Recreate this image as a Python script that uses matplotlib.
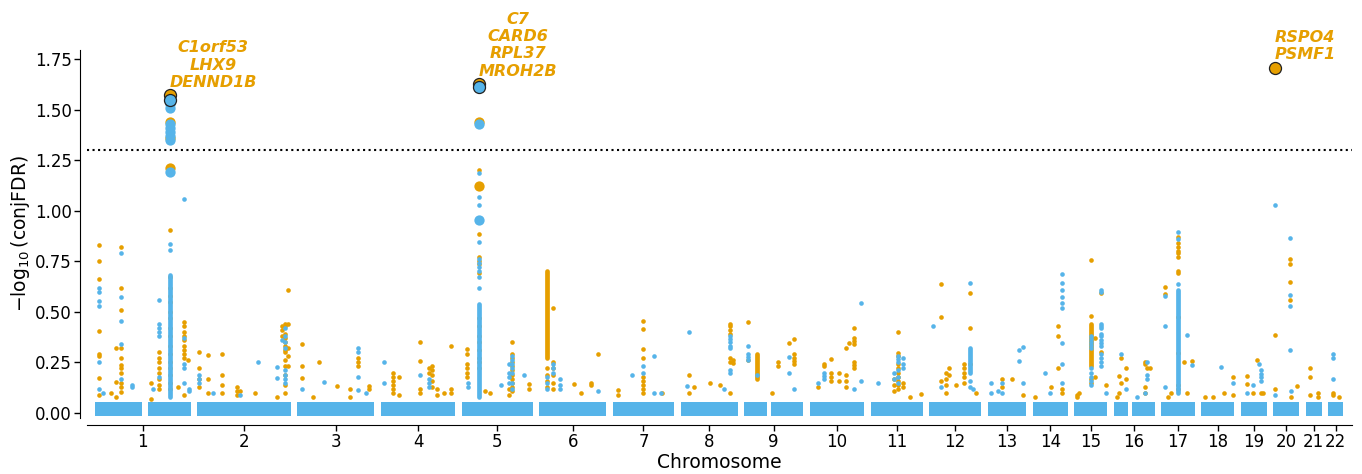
import numpy as np
import matplotlib
matplotlib.use("Agg")
import matplotlib.pyplot as plt

ORANGE = "#E69F00"
BLUE = "#56B4E9"

# chromosome block widths (relative SNP counts)
chrom_len = [96, 94, 77, 75, 71, 67, 62, 57, 59, 55, 52, 52, 39, 35, 33, 41, 34, 33, 26, 26, 16, 15]
# centromere gaps (relative position within chromosome)
centro_gap = {1: (0.49, 0.55), 9: (0.39, 0.46), 16: (0.34, 0.44)}

# small points: (chromosome, relative position, -log10 conjFDR values)
orange_cols = [
    (1, 0.045, [0.83, 0.75, 0.66, 0.405, 0.29, 0.28, 0.175, 0.09]),
    (1, 0.22, [0.32, 0.155, 0.08]), (1, 0.17, [0.10]),
    (1, 0.27, [0.82, 0.62, 0.51, 0.32, 0.27, 0.237, 0.22, 0.196, 0.15, 0.13, 0.105]),
    (1, 0.59, [0.15, 0.07]),
    (1, 0.67, [0.30, 0.27, 0.25, 0.22, 0.20, 0.17, 0.14, 0.12]),
    (1, 0.78, [0.905, 0.67, 0.62, 0.58, 0.55, 0.50, 0.47, 0.42, 0.38, 0.33, 0.29, 0.25, 0.22, 0.19, 0.15, 0.12]),
    (1, 0.93, [0.45, 0.43, 0.40, 0.38, 0.36, 0.33, 0.31, 0.29, 0.27, 0.09]),
    (1, 0.97, [0.26]), (1, 0.87, [0.13]),
    (2, 0.02, [0.30, 0.22, 0.17, 0.13]), (2, 0.12, [0.287, 0.17, 0.10]),
    (2, 0.26, [0.29, 0.19, 0.14, 0.10]), (2, 0.42, [0.13, 0.11, 0.09]),
    (2, 0.46, [0.11]), (2, 0.62, [0.10]), (2, 0.85, [0.08]),
    (2, 0.91, [0.43, 0.41, 0.38]),
    (2, 0.94, [0.44, 0.43, 0.39, 0.37, 0.35, 0.33, 0.31, 0.30, 0.26, 0.23, 0.19, 0.14, 0.10]),
    (2, 0.97, [0.61, 0.44, 0.32, 0.28, 0.23]),
    (3, 0.06, [0.34, 0.23, 0.175]), (3, 0.28, [0.25]), (3, 0.52, [0.133]),
    (3, 0.68, [0.118, 0.08]), (3, 0.79, [0.27, 0.25, 0.23]), (3, 0.93, [0.135, 0.12]),
    (3, 0.20, [0.08]),
    (4, 0.16, [0.20, 0.18, 0.16, 0.14, 0.12, 0.10]), (4, 0.25, [0.18, 0.09]),
    (4, 0.53, [0.35, 0.255, 0.12, 0.10]), (4, 0.64, [0.22, 0.20]),
    (4, 0.69, [0.23, 0.21, 0.19, 0.16, 0.13]), (4, 0.75, [0.12, 0.09]),
    (4, 0.85, [0.10]), (4, 0.94, [0.33, 0.12, 0.10]),
    (5, 0.075, [0.315, 0.29, 0.24, 0.22, 0.20, 0.18]),
    (5, 0.24, [1.20, 0.883, 0.77, 0.75, 0.735, 0.69, 0.47, 0.43, 0.38, 0.35, 0.31, 0.27, 0.25, 0.22]),
    (5, 0.33, [0.11]), (5, 0.40, [0.10]),
    (5, 0.71, [0.35, 0.29, 0.27, 0.25, 0.23, 0.21, 0.19, 0.17, 0.15, 0.13, 0.11]),
    (5, 0.66, [0.12, 0.09]), (5, 0.94, [0.145, 0.12]),
    (6, 0.11, [0.22, 0.19, 0.16, 0.13]), (6, 0.21, [0.52, 0.25, 0.22, 0.19, 0.15, 0.12]),
    (6, 0.52, [0.145]), (6, 0.63, [0.10]), (6, 0.78, [0.15, 0.14]), (6, 0.88, [0.293]),
    (7, 0.09, [0.114, 0.09]),
    (7, 0.49, [0.455, 0.415, 0.315, 0.27, 0.18, 0.16, 0.14, 0.12, 0.10]), (7, 0.80, [0.10]),
    (8, 0.15, [0.19, 0.10]), (8, 0.23, [0.127]), (8, 0.51, [0.147]), (8, 0.69, [0.138]),
    (8, 0.865, [0.44, 0.43, 0.41, 0.39, 0.27, 0.25, 0.10]), (8, 0.91, [0.26, 0.245]),
    (9, 0.07, [0.448, 0.26]), (9, 0.47, [0.10]), (9, 0.57, [0.25, 0.23]),
    (9, 0.77, [0.344]), (9, 0.85, [0.364, 0.29, 0.27, 0.255, 0.24]),
    (10, 0.16, [0.13]), (10, 0.27, [0.24, 0.23]), (10, 0.39, [0.265, 0.20, 0.18, 0.16]),
    (10, 0.54, [0.196, 0.16]), (10, 0.66, [0.32, 0.19, 0.16, 0.13]), (10, 0.72, [0.347]),
    (10, 0.81, [0.418, 0.37, 0.355, 0.34, 0.25, 0.235, 0.22]),
    (11, 0.52, [0.40, 0.295, 0.28, 0.24, 0.22, 0.20, 0.18, 0.16, 0.14, 0.12]),
    (11, 0.45, [0.17, 0.14, 0.11]), (11, 0.62, [0.15, 0.13]), (11, 0.96, [0.094]), (11, 0.75, [0.08]),
    (12, 0.23, [0.636, 0.473, 0.16]), (12, 0.33, [0.20, 0.17, 0.14, 0.10]), (12, 0.38, [0.224, 0.19]),
    (12, 0.52, [0.14]), (12, 0.68, [0.242, 0.22, 0.20, 0.18, 0.15]), (12, 0.79, [0.594, 0.42, 0.24]),
    (12, 0.90, [0.10]),
    (13, 0.38, [0.168, 0.13]), (13, 0.63, [0.168]), (13, 0.92, [0.09]),
    (14, 0.06, [0.08]), (14, 0.53, [0.127]), (14, 0.72, [0.43, 0.38, 0.22]), (14, 0.84, [0.12, 0.10]),
    (15, 0.08, [0.09, 0.08]), (15, 0.15, [0.10]), (15, 0.50, [0.756, 0.48, 0.17, 0.15]),
    (15, 0.62, [0.372, 0.18]), (15, 0.80, [0.594, 0.30]), (15, 0.95, [0.14]),
    (16, 0.07, [0.08]), (16, 0.12, [0.184, 0.10]), (16, 0.19, [0.27, 0.15]), (16, 0.31, [0.22, 0.17]),
    (16, 0.76, [0.25, 0.24, 0.13, 0.10]), (16, 0.81, [0.22]), (16, 0.88, [0.22]),
    (17, 0.13, [0.624, 0.59]), (17, 0.20, [0.08]), (17, 0.30, [0.10]),
    (17, 0.50, [0.87, 0.84, 0.82, 0.80, 0.79, 0.77, 0.70, 0.69, 0.476, 0.296, 0.14, 0.12]),
    (17, 0.69, [0.254]), (17, 0.77, [0.10]), (17, 0.92, [0.258]),
    (18, 0.10, [0.08]), (18, 0.35, [0.08]), (18, 0.70, [0.10]), (18, 0.95, [0.18, 0.09]),
    (19, 0.25, [0.183, 0.143]), (19, 0.48, [0.10]), (19, 0.63, [0.262]), (19, 0.76, [0.10]), (19, 0.85, [0.10]),
    (20, 0.05, [0.385, 0.117]), (20, 0.63, [0.761, 0.735, 0.646, 0.558]), (20, 0.68, [0.08]), (20, 0.93, [0.135]),
    (21, 0.30, [0.22, 0.18, 0.09]), (21, 0.77, [0.10, 0.08]),
    (22, 0.31, [0.10, 0.09]), (22, 0.70, [0.08]),
]

blue_cols = [
    (1, 0.045, [0.62, 0.60, 0.555, 0.53, 0.25, 0.12]),
    (1, 0.27, [0.79, 0.575, 0.455, 0.34, 0.17]), (1, 0.39, [0.14, 0.13]), (1, 0.08, [0.10]),
    (1, 0.61, [0.12]), (1, 0.67, [0.56, 0.44, 0.42, 0.40, 0.38, 0.18]),
    (1, 0.78, [0.835, 0.805]), (1, 0.925, [0.37, 0.24, 0.22, 0.15]), (1, 0.93, [1.057]),
    (1, 0.98, [0.12, 0.11]),
    (2, 0.02, [0.19, 0.17, 0.15]), (2, 0.17, [0.10]), (2, 0.46, [0.09]), (2, 0.65, [0.25]),
    (2, 0.85, [0.225, 0.175]), (2, 0.91, [0.36]),
    (2, 0.94, [0.42, 0.38, 0.35, 0.32, 0.21, 0.19, 0.17, 0.15]),
    (3, 0.06, [0.117]), (3, 0.34, [0.155]), (3, 0.79, [0.32, 0.30, 0.18, 0.114]), (3, 0.89, [0.10]),
    (4, 0.05, [0.25, 0.147]), (4, 0.53, [0.19]), (4, 0.64, [0.17, 0.15, 0.13]),
    (5, 0.09, [0.15, 0.13]),
    (5, 0.24, [1.185, 1.07, 1.03, 0.846, 0.76, 0.74, 0.72, 0.70, 0.67, 0.616]),
    (5, 0.55, [0.14]), (5, 0.66, [0.24, 0.20, 0.18, 0.15]),
    (5, 0.71, [0.28, 0.26, 0.24, 0.22, 0.20, 0.15, 0.12]), (5, 0.87, [0.19]),
    (6, 0.11, [0.18, 0.15, 0.12]), (6, 0.21, [0.24, 0.22, 0.20]), (6, 0.31, [0.168, 0.14, 0.12]),
    (6, 0.88, [0.11]),
    (7, 0.32, [0.19]), (7, 0.49, [0.23, 0.20]), (7, 0.67, [0.28, 0.10]), (7, 0.78, [0.10]),
    (8, 0.15, [0.40]), (8, 0.10, [0.133]), (8, 0.76, [0.117]),
    (8, 0.865, [0.38, 0.365, 0.35, 0.33, 0.32, 0.21, 0.20]),
    (9, 0.07, [0.33, 0.29, 0.275, 0.26]), (9, 0.21, [0.19]), (9, 0.77, [0.275, 0.20]), (9, 0.85, [0.117]),
    (10, 0.16, [0.147]), (10, 0.27, [0.20, 0.185, 0.17]), (10, 0.81, [0.12]), (10, 0.93, [0.545, 0.16]),
    (11, 0.13, [0.148]), (11, 0.52, [0.28, 0.265, 0.25, 0.21, 0.18, 0.15]),
    (11, 0.62, [0.27, 0.24, 0.22]), (11, 0.45, [0.20, 0.17]),
    (12, 0.08, [0.43]), (12, 0.23, [0.13]), (12, 0.79, [0.644, 0.16, 0.13]), (12, 0.85, [0.12]),
    (13, 0.08, [0.15, 0.10]), (13, 0.27, [0.11]), (13, 0.38, [0.15, 0.10]),
    (13, 0.82, [0.31, 0.257]), (13, 0.92, [0.325, 0.15]),
    (14, 0.36, [0.20]), (14, 0.50, [0.10]),
    (14, 0.84, [0.687, 0.644, 0.608, 0.575, 0.543, 0.52, 0.347, 0.24, 0.15]),
    (15, 0.50, [0.38, 0.365, 0.35, 0.335, 0.32, 0.22, 0.20, 0.18, 0.16, 0.14]),
    (15, 0.80, [0.61, 0.60, 0.44, 0.43, 0.42, 0.39, 0.38, 0.36, 0.345, 0.33, 0.29, 0.27, 0.25, 0.23]),
    (15, 0.95, [0.10]),
    (16, 0.19, [0.29]), (16, 0.31, [0.119]), (16, 0.57, [0.08]), (16, 0.76, [0.10]),
    (16, 0.81, [0.254, 0.19, 0.17]),
    (17, 0.13, [0.578, 0.43, 0.127]), (17, 0.50, [0.896, 0.86, 0.64]), (17, 0.77, [0.387]),
    (17, 0.92, [0.237]),
    (18, 0.60, [0.229]), (18, 0.95, [0.147]),
    (19, 0.25, [0.10]), (19, 0.48, [0.14]), (19, 0.69, [0.24]), (19, 0.76, [0.21, 0.195, 0.18, 0.16]),
    (20, 0.05, [1.028, 0.09]), (20, 0.63, [0.863, 0.583, 0.53, 0.311]), (20, 0.68, [0.11]),
    (22, 0.31, [0.29, 0.27, 0.166]),
]

# dense runs of SNPs: (chromosome, relative position, low, high, trait)
dense_runs = [
    (1, 0.78, 0.08, 0.68, "blue"),
    (5, 0.24, 0.08, 0.54, "blue"),
    (6, 0.11, 0.27, 0.70, "orange"),
    (9, 0.21, 0.17, 0.29, "orange"),
    (12, 0.79, 0.196, 0.32, "blue"),
    (15, 0.50, 0.23, 0.44, "orange"),
    (17, 0.50, 0.10, 0.61, "blue"),
]

# SNPs in the significant loci (drawn larger)
orange_big = [(1, 0.78, [1.44, 1.36, 1.21]), (5, 0.24, [1.44, 1.12])]
blue_big = [(1, 0.78, [1.53, 1.51, 1.43, 1.41, 1.39, 1.37, 1.35, 1.19]), (5, 0.24, [1.43, 0.955])]

# lead SNPs with gene annotations
lead_chrom = [1, 5, 20]
lead_pos = [0.78, 0.24, 0.06]
lead_orange = [1.57, 1.625, 1.706]
lead_blue = [1.55, 1.61, None]
lead_genes = ["C1orf53\nLHX9\nDENND1B", "C7\nCARD6\nRPL37\nMROH2B", "RSPO4\nPSMF1"]

gap = 6.5
chrom_start = np.concatenate([[0], np.cumsum(np.array(chrom_len[:-1]) + gap)])
chrom_mid = chrom_start + np.array(chrom_len) / 2.0


def xpos(c, rel):
    return chrom_start[c - 1] + rel * chrom_len[c - 1]


def flatten(cols):
    xs, ys = [], []
    for c, rel, vals in cols:
        for v in vals:
            xs.append(xpos(c, rel))
            ys.append(v)
    return xs, ys


fig = plt.figure(figsize=(13.62, 4.74), dpi=100)
ax = fig.add_axes([87 / 1362, 1 - 418 / 474, (1352 - 87) / 1362, (418 - 50) / 474])

# baseline band of non-significant SNPs
for i, L in enumerate(chrom_len):
    c = i + 1
    segs = [(0, 1)]
    if c in centro_gap:
        g0, g1 = centro_gap[c]
        segs = [(0, g0), (g1, 1)]
    for a, b in segs:
        ax.fill_between([xpos(c, a), xpos(c, b)], -0.013, 0.055, color=BLUE, lw=0, zorder=1)

for c, rel, lo, hi, trait in dense_runs:
    lc = ax.vlines(xpos(c, rel), lo, hi, color=ORANGE if trait == "orange" else BLUE,
                   lw=3.4, zorder=2 if trait == "orange" else 3)
    lc.set_capstyle("round")

x, y = flatten(orange_cols)
ax.scatter(x, y, s=11, color=ORANGE, lw=0, zorder=2)
x, y = flatten(blue_cols)
ax.scatter(x, y, s=11, color=BLUE, lw=0, zorder=3)

x, y = flatten(orange_big)
ax.scatter(x, y, s=55, color=ORANGE, lw=0, zorder=4)
x, y = flatten(blue_big)
ax.scatter(x, y, s=55, color=BLUE, lw=0, zorder=5)

for c, rel, vo, vb, genes in zip(lead_chrom, lead_pos, lead_orange, lead_blue, lead_genes):
    lx = xpos(c, rel)
    ax.scatter([lx], [vo], s=75, color=ORANGE, edgecolor="#222222", lw=0.9, zorder=6)
    if vb is not None:
        ax.scatter([lx], [vb], s=75, color=BLUE, edgecolor="#222222", lw=0.9, zorder=7)
    ax.annotate(genes, (lx, vo), xytext=(0, 4), textcoords="offset points",
                ha="left", va="bottom", ma="center", color=ORANGE,
                fontsize=11.5, fontweight="bold", fontstyle="italic",
                annotation_clip=False, zorder=8)

ax.axhline(-np.log10(0.05), color="black", ls=":", lw=1.5, zorder=0)

ax.set_xlim(-8, chrom_start[-1] + chrom_len[-1] + 9)
ax.set_ylim(-0.025, 1.795)
ax.set_xticks(chrom_mid)
ax.set_xticklabels([str(i) for i in range(1, 23)])
ax.set_yticks([0, 0.25, 0.5, 0.75, 1.0, 1.25, 1.5, 1.75])
ax.set_yticklabels(["%.2f" % v for v in [0, 0.25, 0.5, 0.75, 1.0, 1.25, 1.5, 1.75]])
ax.tick_params(labelsize=12, length=4, width=1, pad=2)
ax.set_xlabel("Chromosome", fontsize=13.5, labelpad=1)
ax.set_ylabel(r"$-\log_{10}$(conjFDR)", fontsize=13.5, labelpad=2)

for s in ["top", "right"]:
    ax.spines[s].set_visible(False)
ax.spines["left"].set_position(("outward", 5))
ax.spines["bottom"].set_position(("outward", 5))

fig.savefig("out.png", dpi=100)
